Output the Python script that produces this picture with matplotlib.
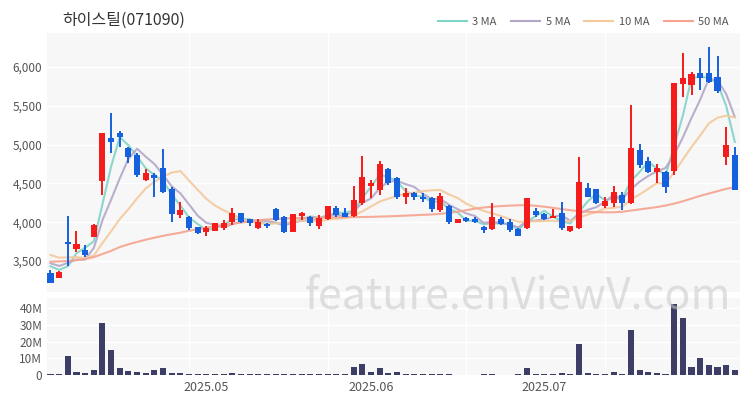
import numpy as np
import pandas as pd
import matplotlib
matplotlib.use("Agg")
import matplotlib.pyplot as plt
from matplotlib.lines import Line2D

plt.rcParams['font.family'] = ['Noto Sans CJK KR', 'DejaVu Sans']

TITLE = "하이스틸(071090)"
WATERMARK = "feature.enViewV.com"

# trading days (KRX), 2025-04-07 .. 2025-07-31
HOLIDAYS = ["2025-05-01", "2025-05-05", "2025-05-06", "2025-06-06"]
DATES = pd.bdate_range("2025-04-07", "2025-07-31", freq="C", holidays=HOLIDAYS)

OPEN = [3345, 3285, 3750, 3650, 3640, 3815, 4525, 5090, 5145, 4960,
        4865, 4545, 4610, 4695, 4425, 4095, 4065, 3935, 3880, 3890,
        3925, 4005, 4115, 4035, 3920, 3975, 4170, 4065, 3880, 4080,
        4065, 3950, 4035, 4180, 4125, 4080, 4245, 4465, 4415, 4680,
        4565, 4330, 4380, 4330, 4310, 4155, 4210, 3995, 4050, 4045,
        3935, 3910, 4040, 4005, 3910, 3920, 4150, 4105, 4060, 4125,
        3890, 3920, 4435, 4425, 4215, 4250, 4350, 4245, 4930, 4795,
        4650, 4650, 4660, 5780, 5770, 5930, 5920, 5875, 4835, 4865]
HIGH = [3385, 3370, 4080, 3885, 3705, 3975, 5155, 5410, 5180, 4975,
        4890, 4685, 4635, 4940, 4460, 4255, 4080, 3940, 3950, 3990,
        4025, 4185, 4125, 4045, 4035, 3995, 4180, 4080, 4105, 4135,
        4080, 4095, 4210, 4210, 4180, 4465, 4855, 4545, 4790, 4705,
        4585, 4445, 4395, 4375, 4320, 4375, 4220, 4035, 4065, 4065,
        3950, 4250, 4065, 4040, 3920, 4310, 4180, 4125, 4165, 4265,
        3955, 4845, 4510, 4430, 4320, 4465, 4395, 5510, 5010, 4845,
        4750, 4660, 5800, 6185, 5940, 6115, 6265, 6140, 5225, 4975]
LOW = [3210, 3280, 3440, 3620, 3550, 3810, 4350, 4890, 4975, 4765,
       4580, 4535, 4325, 4380, 4005, 4050, 3900, 3850, 3820, 3885,
       3905, 3965, 3985, 3950, 3910, 3920, 4020, 3865, 3875, 4030,
       3945, 3910, 4030, 4065, 4065, 4070, 4220, 4310, 4350, 4480,
       4295, 4235, 4285, 4265, 4135, 4135, 3975, 3990, 4005, 3985,
       3865, 3905, 3965, 3880, 3820, 3915, 4070, 4030, 4050, 3905,
       3880, 3910, 4330, 4240, 4180, 4200, 4155, 4240, 4695, 4630,
       4500, 4380, 4615, 5610, 5640, 5705, 5790, 5660, 4735, 4415]
CLOSE = [3215, 3360, 3720, 3720, 3575, 3965, 5155, 5040, 5095, 4840,
         4610, 4635, 4575, 4385, 4105, 4155, 3920, 3855, 3920, 3985,
         3995, 4125, 4005, 3985, 4005, 3950, 4030, 3880, 4105, 4125,
         3995, 4050, 4210, 4095, 4070, 4285, 4585, 4500, 4750, 4500,
         4330, 4375, 4320, 4300, 4165, 4340, 4005, 4035, 4020, 4000,
         3900, 4065, 3975, 3900, 3825, 4310, 4095, 4040, 4080, 3920,
         3950, 4520, 4330, 4245, 4275, 4395, 4245, 4955, 4740, 4645,
         4695, 4460, 5800, 5865, 5905, 5865, 5810, 5695, 4995, 4415]
VOLUME_M = [0.3, 0.3, 11.6, 2.0, 1.0, 3.0, 31.0, 15.0, 4.0, 2.6,
            1.6, 1.4, 3.0, 4.4, 1.4, 1.2, 0.4, 0.3, 0.3, 0.3,
            0.3, 1.0, 0.3, 0.3, 0.3, 0.3, 0.8, 0.3, 0.3, 0.3,
            0.3, 0.3, 0.6, 0.3, 0.3, 4.6, 6.6, 2.0, 4.0, 1.0,
            1.6, 0.6, 0.3, 0.3, 0.5, 0.6, 0.6, 0.2, 0.2, 0.2,
            0.3, 0.8, 0.2, 0.2, 0.3, 4.0, 0.8, 0.3, 0.3, 1.2,
            0.3, 18.6, 1.2, 0.6, 0.6, 1.6, 0.4, 26.6, 3.0, 2.0,
            1.4, 0.8, 42.6, 34.0, 5.0, 10.0, 6.2, 4.8, 5.8, 3.0]

# closes before the window (needed for the short MAs)
PREV_CLOSE = [3700, 3690, 3680, 3680, 3670, 3530, 3525, 3500, 3580]
# 50-day MA
MA50 = [3490, 3495, 3500, 3510, 3525, 3550, 3590, 3630, 3680, 3715,
        3745, 3775, 3800, 3825, 3845, 3865, 3890, 3910, 3930, 3950,
        3965, 3980, 3995, 4010, 4025, 4035, 4042, 4048, 4052, 4055,
        4058, 4060, 4062, 4064, 4065, 4066, 4067, 4069, 4072, 4076,
        4080, 4085, 4090, 4095, 4100, 4108, 4120, 4135, 4155, 4175,
        4190, 4200, 4208, 4214, 4218, 4220, 4212, 4200, 4185, 4170,
        4155, 4142, 4135, 4130, 4128, 4128, 4135, 4150, 4165, 4180,
        4195, 4215, 4240, 4270, 4305, 4340, 4370, 4400, 4430, 4450]

MA_LABELS = ["3 MA", "5 MA", "10 MA", "50 MA"]
MA_COLORS = ["#7fd4c8", "#b4a6c9", "#f4c99c", "#f5a38e"]
UP_COLOR = "#f51c1c"
DOWN_COLOR = "#1560dc"
VOL_COLOR = "#3d3e66"
BG = "#f7f7f7"
TXT = "#555555"


def style(ax):
    ax.set_facecolor(BG)
    for s in ax.spines.values():
        s.set_visible(False)
    ax.tick_params(which="both", length=0, labelsize=8.5, colors=TXT)
    ax.set_axisbelow(True)
    ax.grid(axis="y", color="white", linewidth=1.0)
    ax.grid(axis="x", which="minor", color="white", linewidth=1.0)
    ax.set_xticks([16, 32, 48, 64], minor=True)


def main():
    n = len(CLOSE)
    x = np.arange(n)
    closes = pd.Series(PREV_CLOSE + CLOSE, dtype=float)
    mas = [closes.rolling(w).mean().iloc[len(PREV_CLOSE):].to_numpy() for w in (3, 5, 10)]
    mas.append(np.array(MA50, dtype=float))

    fig = plt.figure(figsize=(7.5, 4.0), dpi=100)
    ax = fig.add_axes([0.0627, 0.27, 0.924, 0.6475])
    axv = fig.add_axes([0.0627, 0.0625, 0.924, 0.1925], sharex=ax)
    style(ax)
    style(axv)

    # moving averages
    for m, c in zip(mas, MA_COLORS):
        ax.plot(x, m, color=c, linewidth=1.5, alpha=0.9, zorder=2)

    # candles
    for i in range(n):
        o, h, l, c = OPEN[i], HIGH[i], LOW[i], CLOSE[i]
        col = UP_COLOR if c >= o else DOWN_COLOR
        ax.vlines(i, l, h, color=col, linewidth=1.4, zorder=3)
        body = max(abs(c - o), 12)
        ax.bar(i, body, bottom=min(o, c) - (body - abs(c - o)) / 2,
               width=0.7, color=col, zorder=4)

    ax.set_ylim(3100, 6440)
    ax.set_yticks([3500, 4000, 4500, 5000, 5500, 6000])
    ax.set_yticklabels([f"{v:,}" for v in [3500, 4000, 4500, 5000, 5500, 6000]])
    ax.set_xlim(-0.4, n - 0.4)
    plt.setp(ax.get_xticklabels(), visible=False)

    # volume
    axv.bar(x, VOLUME_M, width=0.7, color=VOL_COLOR, zorder=3)
    axv.set_ylim(0, 46)
    axv.set_yticks([0, 10, 20, 30, 40])
    axv.set_yticklabels(["0", "10M", "20M", "30M", "40M"])

    month_idx = [i for i in range(1, n) if DATES[i].month != DATES[i - 1].month]
    axv.set_xticks(month_idx)
    axv.set_xticklabels([DATES[i].strftime("%Y.%m") for i in month_idx])
    axv.tick_params(axis="x", pad=4, labelsize=9)

    fig.text(0.083, 0.948, TITLE, fontsize=11.5, color="#333333", va="center")

    handles = [Line2D([], [], color=c, linewidth=1.5) for c in MA_COLORS]
    fig.legend(handles, MA_LABELS, loc="center right", bbox_to_anchor=(0.985, 0.945),
               ncol=4, frameon=False, fontsize=8, handlelength=2.6,
               columnspacing=1.3, handletextpad=0.5, labelcolor=TXT)

    fig.text(0.69, 0.258, WATERMARK, fontsize=31, color="#c8c8c8", alpha=0.55,
             ha="center", va="center", zorder=10)

    fig.savefig("out.png", dpi=100)


if __name__ == "__main__":
    main()
